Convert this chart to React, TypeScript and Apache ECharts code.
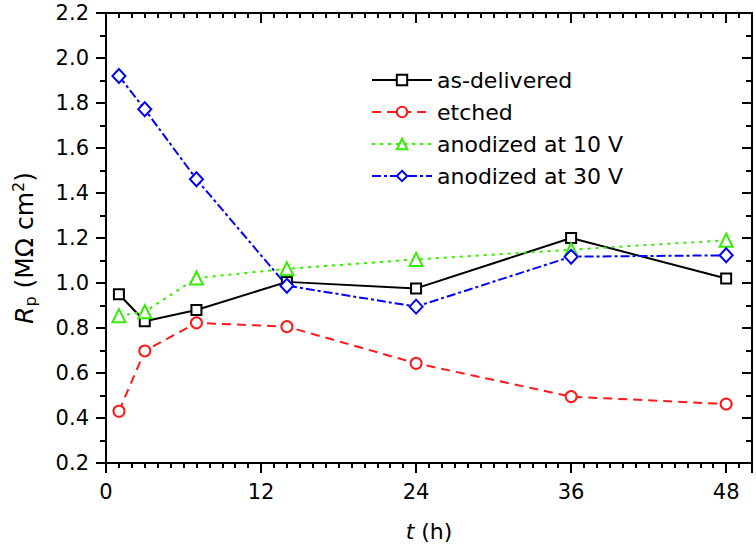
import React, { useEffect, useRef } from "react";
import * as echarts from "echarts";

const hours = [1, 3, 7, 14, 24, 36, 48];
const asDelivered = [0.95, 0.83, 0.88, 1.005, 0.976, 1.2, 1.02];
const etched = [0.43, 0.698, 0.823, 0.806, 0.643, 0.495, 0.462];
const anodized10 = [0.855, 0.872, 1.022, 1.063, 1.105, 1.148, 1.19];
const anodized30 = [1.92, 1.772, 1.461, 0.988, 0.895, 1.117, 1.123];
const seriesNames = ["as-delivered", "etched", "anodized at 10 V", "anodized at 30 V"];

const FONT = "'DejaVu Sans', 'Liberation Sans', Arial, sans-serif";

export default function App() {
  const ref = useRef<HTMLDivElement>(null);
  useEffect(() => {
    document.body.style.margin = "0";
    const chart = echarts.init(ref.current!, null, { renderer: "svg" });
    const pair = (ys: number[]) => hours.map((h, i) => [h, ys[i]]);
    const mk = (name: string, ys: number[], color: string, symbol: string, size: number | number[], type: any) => ({
      name,
      type: "line",
      data: pair(ys),
      symbol,
      symbolSize: size,
      showSymbol: true,
      lineStyle: { color, width: 2, type },
      itemStyle: { color: "#ffffff", borderColor: color, borderWidth: 2 },
      emphasis: { disabled: true },
      z: 2,
    });
    const axisLine = { show: true, onZero: false, lineStyle: { color: "#000", width: 2 } };
    chart.setOption({
      animation: false,
      textStyle: { fontFamily: FONT },
      grid: { left: 106, right: 4, top: 13, bottom: 86, containLabel: false },
      legend: {
        orient: "vertical",
        left: 366,
        top: 64,
        itemWidth: 60,
        itemHeight: 13,
        itemGap: 10,
        data: seriesNames,
        textStyle: { fontSize: 22, lineHeight: 22, color: "#000", fontFamily: FONT },
      },
      xAxis: [
        {
          type: "value",
          min: 0,
          max: 50,
          interval: 12,
          position: "bottom",
          axisLine,
          axisTick: { show: true, inside: false, length: 10, lineStyle: { color: "#000", width: 2 } },
          minorTick: { show: true, splitNumber: 12, length: 5, lineStyle: { color: "#000", width: 2 } },
          splitLine: { show: false },
          axisLabel: { fontSize: 21, color: "#000", margin: 18, fontFamily: FONT, showMaxLabel: false },
          name: "{i|t} (h)",
          nameLocation: "middle",
          nameGap: 57,
          nameTextStyle: {
            fontSize: 22,
            color: "#000",
            fontFamily: FONT,
            rich: { i: { fontStyle: "italic", fontSize: 22, fontFamily: FONT, color: "#000" } },
          },
        },
        {
          type: "value",
          min: 0,
          max: 50,
          interval: 12,
          position: "top",
          axisLine,
          axisTick: { show: true, inside: true, length: 10, lineStyle: { color: "#000", width: 2 } },
          minorTick: { show: true, splitNumber: 12, length: 5, lineStyle: { color: "#000", width: 2 } },
          splitLine: { show: false },
          axisLabel: { show: false },
        },
      ],
      yAxis: [
        {
          type: "value",
          min: 0.2,
          max: 2.2,
          interval: 0.2,
          position: "left",
          axisLine,
          axisTick: { show: true, inside: false, length: 10, lineStyle: { color: "#000", width: 2 } },
          minorTick: { show: true, splitNumber: 2, length: 6, lineStyle: { color: "#000", width: 2 } },
          splitLine: { show: false },
          axisLabel: {
            fontSize: 21,
            color: "#000",
            margin: 17,
            fontFamily: FONT,
            formatter: (v: number) => v.toFixed(1),
          },
          name: "{i|R}{sub|p} (MΩ cm{sup|2})",
          nameLocation: "middle",
          nameRotate: 90,
          nameGap: 68,
          nameTextStyle: {
            fontSize: 25,
            color: "#000",
            fontFamily: FONT,
            padding: [0, 20, 0, 0],
            rich: {
              i: { fontStyle: "italic", fontSize: 25, fontFamily: FONT, color: "#000" },
              sub: { fontSize: 16, fontFamily: FONT, color: "#000", verticalAlign: "bottom", padding: [12, 0, 0, 0] },
              sup: { fontSize: 16, fontFamily: FONT, color: "#000", verticalAlign: "top", padding: [0, 0, 12, 0] },
            },
          },
        },
        {
          type: "value",
          min: 0.2,
          max: 2.2,
          interval: 0.2,
          position: "right",
          axisLine,
          axisTick: { show: true, inside: true, length: 10, lineStyle: { color: "#000", width: 2 } },
          minorTick: { show: true, splitNumber: 2, length: 6, lineStyle: { color: "#000", width: 2 } },
          splitLine: { show: false },
          axisLabel: { show: false },
        },
      ],
      series: [
        mk(seriesNames[0], asDelivered, "#000000", "rect", 10, "solid"),
        mk(seriesNames[1], etched, "#ff1a1a", "circle", 11, [9, 6]),
        mk(seriesNames[2], anodized10, "#33ee00", "triangle", 13, [3, 5]),
        mk(seriesNames[3], anodized30, "#0000ff", "diamond", [13, 14], [9, 3, 3, 3]),
      ],
    });
    return () => chart.dispose();
  }, []);
  return <div ref={ref} style={{ width: 756, height: 549 }} />;
}
